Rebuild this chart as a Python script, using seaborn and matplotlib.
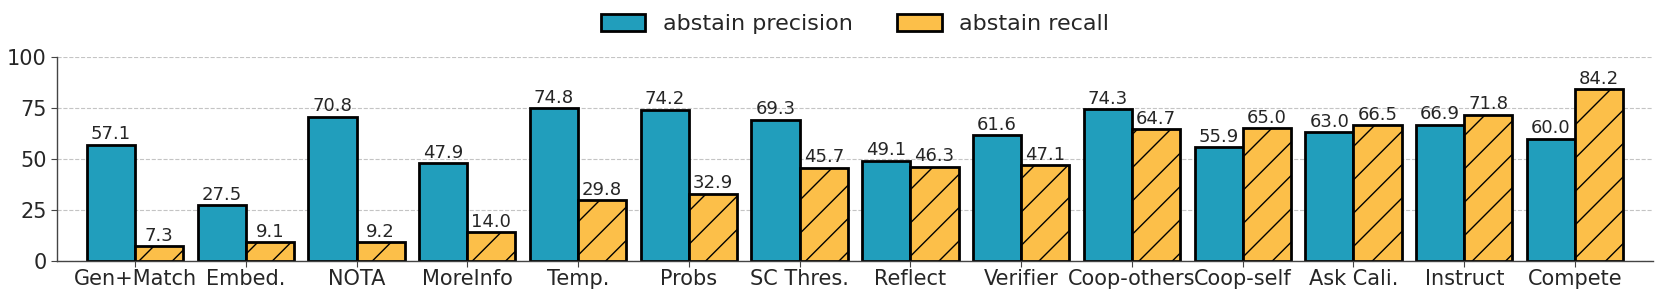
import pandas as pd
import numpy as np
import matplotlib.pyplot as plt
import seaborn as sns

methods = ['Gen+Match', 'Embed.', 'NOTA', 'MoreInfo', 'Temp.', 'Probs', 'SC Thres.',
           'Reflect', 'Verifier', 'Coop-others', 'Coop-self', 'Ask Cali.', 'Instruct', 'Compete']
precision = [57.1, 27.5, 70.8, 47.9, 74.8, 74.2, 69.3, 49.1, 61.6, 74.3, 55.9, 63.0, 66.9, 60.0]
recall = [7.3, 9.1, 9.2, 14.0, 29.8, 32.9, 45.7, 46.3, 47.1, 64.7, 65.0, 66.5, 71.8, 84.2]
series = ['abstain precision', 'abstain recall']

df = pd.DataFrame({
    'method': methods * 2,
    'value': precision + recall,
    'metric': [series[0]] * len(methods) + [series[1]] * len(methods),
})

sns.set_style('white')
plt.rcParams['font.family'] = ['DejaVu Sans']
plt.rcParams['hatch.linewidth'] = 1.0

fig = plt.figure(figsize=(16.61, 2.97), dpi=100)
# axes box placed to match the reference pixel layout
ax = fig.add_axes([0.0343, 0.1212, 0.9609, 0.6869])

sns.barplot(data=df, x='method', y='value', hue='metric', order=methods, hue_order=series,
            palette=['#219ebc', '#fcbf49'], width=0.87, edgecolor='black', linewidth=2,
            saturation=1, errorbar=None, ax=ax)

for patch in ax.containers[1]:
    patch.set_hatch('/')

for cont in ax.containers:
    ax.bar_label(cont, fmt='%.1f', fontsize=13, padding=1)

ax.set_ylim(0, 100)
ax.set_xlim(-0.704, 13.704)
ax.set_yticks([0, 25, 50, 75, 100])
ax.yaxis.grid(True, linestyle='--', color='#c4c4c4', linewidth=0.8)
ax.set_axisbelow(True)
ax.tick_params(axis='y', labelsize=15, left=True, length=4, color='#444444')
ax.tick_params(axis='x', labelsize=15, bottom=True, length=4, color='#444444', pad=2)
ax.set_xlabel('')
ax.set_ylabel('')
for s in ['top', 'right']:
    ax.spines[s].set_visible(False)
for s in ['left', 'bottom']:
    ax.spines[s].set_color('#444444')
    ax.spines[s].set_linewidth(1.0)

handles, labels = ax.get_legend_handles_labels()
ax.legend(handles, labels, loc='center', bbox_to_anchor=(0.5, 1.16), ncol=2,
          frameon=False, fontsize=16, handlelength=2.0, handleheight=0.75,
          columnspacing=2.0, handletextpad=0.8)

fig.savefig('out.png', dpi=100)
